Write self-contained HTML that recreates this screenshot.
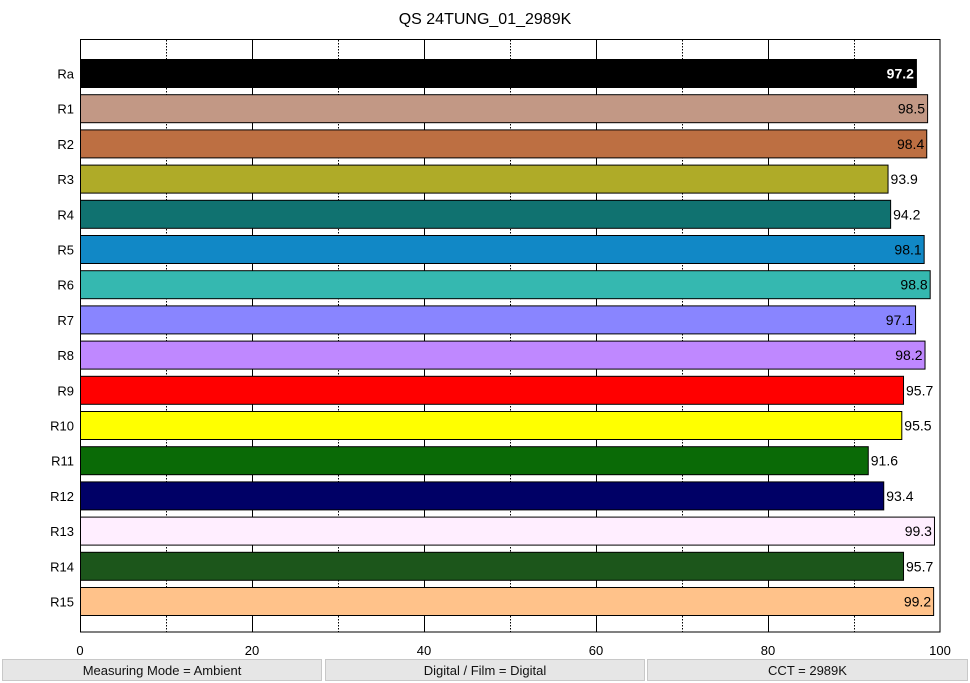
<!DOCTYPE html>
<html><head><meta charset="utf-8"><style>
body{margin:0;background:#fff;width:970px;height:683px;overflow:hidden;font-family:"Liberation Sans",sans-serif}
.f{position:absolute;top:659px;height:20px;background:#e6e6e6;border:1px solid #c8c8c8;font-size:13px;text-align:center;line-height:21px;color:#111}
</style></head><body>
<svg width="970" height="683" style="position:absolute;left:0;top:0" font-family="Liberation Sans, sans-serif">
<text x="485" y="24" text-anchor="middle" font-size="16">QS 24TUNG_01_2989K</text>
<g id="grid"></g>
<rect x="80.5" y="39.5" width="859.5" height="592.5" fill="none" stroke="#000"/>
<g id="bars"></g>
</svg>
<div class="f" style="left:2px;width:318px">Measuring Mode = Ambient</div>
<div class="f" style="left:325px;width:318px">Digital / Film = Digital</div>
<div class="f" style="left:647px;width:319px">CCT = 2989K</div>
<script>
var ns="http://www.w3.org/2000/svg",svg=document.querySelector('svg');
function el(t,a,p,txt){var e=document.createElementNS(ns,t);for(var k in a)e.setAttribute(k,a[k]);if(txt!=null)e.textContent=txt;(p||svg).appendChild(e);return e;}
var g=document.getElementById('grid'),b=document.getElementById('bars');
for(var i=1;i<10;i++){var x=Math.round(80+i*86)+0.5;el('line',{x1:x,x2:x,y1:40,y2:632,stroke:'#000','stroke-dasharray':i%2?'1.5,1.5':'none'},g);}
for(var i=0;i<=5;i++){el('text',{x:80+i*172,y:655,'text-anchor':'middle','font-size':13},g,String(i*20));}
var d=[["Ra",97.2,"#000"],["R1",98.5,"#c29885"],["R2",98.4,"#bd6f42"],["R3",93.9,"#afab28"],["R4",94.2,"#107270"],["R5",98.1,"#1188c6"],["R6",98.8,"#35b8b0"],["R7",97.1,"#8985ff"],["R8",98.2,"#bf88ff"],["R9",95.7,"#ff0000"],["R10",95.5,"#ffff00"],["R11",91.6,"#0a6a06"],["R12",93.4,"#000066"],["R13",99.3,"#ffeeff"],["R14",95.7,"#1c561b"],["R15",99.2,"#ffc28a"]];
d.forEach(function(r,i){var y=59.5+i*35.2,w=r[1]*8.6;
el('rect',{x:80.5,y:y,width:w,height:28,fill:r[2],stroke:'#000'},b);
el('text',{x:74,y:y+19,'text-anchor':'end','font-size':13},b,r[0]);
var inside=r[1]>=97;
var t=el('text',{x:inside?80+w-2:80+w+3,y:y+19,'text-anchor':inside?'end':'start','font-size':14,fill:i==0?'#fff':'#000'},b,r[1].toFixed(1));
if(i==0)t.setAttribute('font-weight','bold');
});
</script>
</body></html>
